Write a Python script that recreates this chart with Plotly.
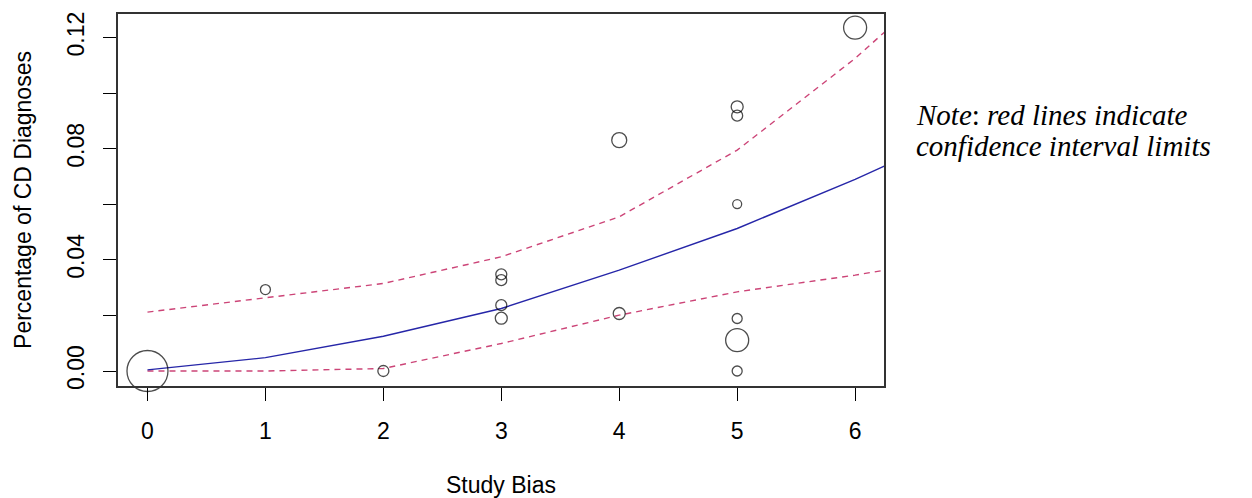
import plotly.graph_objects as go

# Observed studies
study_bias = [0, 1, 2, 3, 3, 3, 3, 4, 4, 5, 5, 5, 5, 5, 5, 6]
pct_cd = [0.0, 0.0293, 0.0, 0.0348, 0.0327, 0.0237, 0.0190, 0.0207, 0.0831,
          0.0951, 0.0919, 0.0601, 0.0189, 0.0111, 0.0, 0.1236]
weight = [41, 10, 11, 11, 11, 11, 12, 12, 15, 12, 11, 9, 10, 23, 10, 23]

# Fitted curve and confidence limits
fit_x = [0, 1, 2, 3, 4, 5, 6, 6.25]
fit_y = [0.0004, 0.0048, 0.0125, 0.0225, 0.0363, 0.0513, 0.0690, 0.0738]
upper_y = [0.0212, 0.0263, 0.0315, 0.0411, 0.0555, 0.0795, 0.1125, 0.1220]
lower_y = [0.0, 0.0, 0.0009, 0.0099, 0.0201, 0.0285, 0.0345, 0.0363]

x_ticks = [0, 1, 2, 3, 4, 5, 6]
y_ticks = [0.0, 0.02, 0.04, 0.06, 0.08, 0.10, 0.12]
y_ticklabels = ["0.00", "", "0.04", "", "0.08", "", "0.12"]

red = "#CC4477"
blue = "#2626A8"

fig = go.Figure()
fig.add_trace(go.Scatter(x=fit_x, y=upper_y, mode="lines",
                         line=dict(color=red, width=1.4, dash="6px,5px"), hoverinfo="skip"))
fig.add_trace(go.Scatter(x=fit_x, y=lower_y, mode="lines",
                         line=dict(color=red, width=1.4, dash="6px,5px"), hoverinfo="skip"))
fig.add_trace(go.Scatter(x=fit_x, y=fit_y, mode="lines",
                         line=dict(color=blue, width=1.4)))
fig.add_trace(go.Scatter(x=study_bias, y=pct_cd, mode="markers",
                         marker=dict(size=weight, symbol="circle-open", color="black",
                                     line=dict(width=1.3, color="black")),
                         cliponaxis=False))

axis_font = dict(family="Liberation Sans, Arial, sans-serif", size=23, color="black")

fig.update_layout(
    width=1252, height=498,
    margin=dict(l=118, r=368, t=14, b=112),
    paper_bgcolor="white", plot_bgcolor="white",
    showlegend=False,
    font=axis_font,
    xaxis=dict(range=[-0.25, 6.245], tickmode="array", tickvals=x_ticks,
               ticks="outside", ticklen=13, tickwidth=1.2, tickcolor="black",
               showline=True, linecolor="#333333", linewidth=1.5, mirror=True,
               showgrid=False, zeroline=False, ticklabelstandoff=11,
               tickfont=axis_font, automargin=False,
               title=dict(text="Study Bias", font=axis_font, standoff=37)),
    yaxis=dict(range=[-0.0054, 0.1285], tickmode="array", tickvals=y_ticks,
               ticktext=y_ticklabels, tickangle=-90,
               ticks="outside", ticklen=13, tickwidth=1.2, tickcolor="black",
               showline=True, linecolor="#333333", linewidth=1.5, mirror=True,
               showgrid=False, zeroline=False, ticklabelstandoff=10,
               tickfont=axis_font, automargin=False,
               title=dict(text="Percentage of CD Diagnoses", font=axis_font, standoff=25)),
)

note_font = dict(family="Liberation Serif, Times New Roman, serif", size=29, color="black")
fig.add_annotation(
    xref="paper", yref="paper", x=1.0, y=(386 - 115) / 372, xshift=30,
    xanchor="left", yanchor="middle", align="left", showarrow=False,
    text="<i>Note</i>: <i>red lines indicate</i>", font=note_font,
)
fig.add_annotation(
    xref="paper", yref="paper", x=1.0, y=(386 - 146) / 372, xshift=30,
    xanchor="left", yanchor="middle", align="left", showarrow=False,
    text="<i>confidence interval limits</i>", font=note_font,
)

fig.write_html("out.html")
